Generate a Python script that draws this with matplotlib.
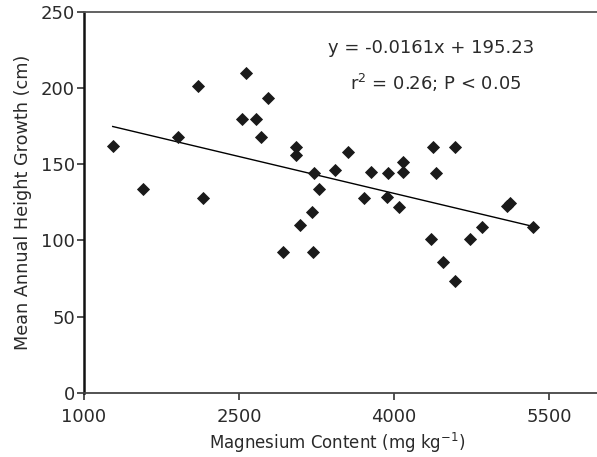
import matplotlib
matplotlib.use('Agg')
import numpy as np
from matplotlib import pyplot as plt

my_dpi = 100

# magnesium content (mg/kg) and mean annual height growth (cm)
mg = [1278, 1574, 1913, 2100, 2149, 2526, 2565, 2664, 2710, 2784,
      2922, 3055, 3055, 3090, 3203, 3213, 3229, 3277, 3432, 3558,
      3710, 3777, 3929, 3945, 4048, 4084, 4084, 4354, 4380, 4403,
      4477, 4593, 4593, 4732, 4848, 5093, 5125, 5348]
growth = [162.1, 133.5, 168.0, 201.4, 127.6, 179.5, 209.9, 179.5, 168.0, 193.5,
          92.6, 161.4, 156.2, 110.3, 118.6, 92.6, 144.0, 133.5, 146.1, 157.7,
          127.8, 144.6, 128.6, 144.0, 121.7, 151.6, 144.8, 100.9, 161.2, 144.0,
          86.0, 161.2, 73.4, 100.9, 109.0, 122.4, 124.6, 109.0]

# fitted regression
slope = -0.0161
intercept = 195.23

xticks = [1000, 2500, 4000, 5500]
yticks = [0, 50, 100, 150, 200, 250]

txt = '#2a2a2a'

fig = plt.figure(figsize=(597/my_dpi, 457/my_dpi), dpi=my_dpi)
ax = fig.add_axes([0.1407, 0.140, 0.8593, 0.8348])

xfit = np.array([min(mg), max(mg)])
ax.plot(xfit, slope*xfit + intercept, color='black', linewidth=1.0)
ax.plot(mg, growth, linestyle='', marker='D', color='#1a1a1a', markersize=6.0, markeredgewidth=0.6)

ax.set_xlim(1000, 5965)
ax.set_ylim(0, 250)
ax.set_xticks(xticks)
ax.set_yticks(yticks)
for label in ax.get_xticklabels() + ax.get_yticklabels():
  label.set_fontsize(13)
ax.tick_params(axis='both', direction='out', length=5, width=1.2, colors='#333333', labelcolor=txt)
ax.tick_params(axis='x', pad=6)
ax.tick_params(axis='y', pad=1.5)

ax.spines['right'].set_visible(False)
ax.spines['left'].set_linewidth(1.8)
ax.spines['left'].set_color('#111111')
ax.spines['bottom'].set_linewidth(1.3)
ax.spines['bottom'].set_color('#444444')
ax.spines['top'].set_linewidth(1.3)
ax.spines['top'].set_color('#555555')

ax.set_xlabel(r'Magnesium Content (mg kg$^{-1}$)', fontsize=12, color=txt, labelpad=4)
ax.set_ylabel('Mean Annual Height Growth (cm)', fontsize=12.7, color=txt, labelpad=6)
ax.xaxis.set_label_coords(0.494, -0.1)

ax.text(4363, 226.4, 'y = -0.0161x + 195.23', fontsize=13, ha='center', va='center', color=txt)
ax.text(4406, 203.5, r'r$^2$ = 0.26; P < 0.05', fontsize=13, ha='center', va='center', color=txt)

plt.savefig('out.png', dpi=my_dpi)
